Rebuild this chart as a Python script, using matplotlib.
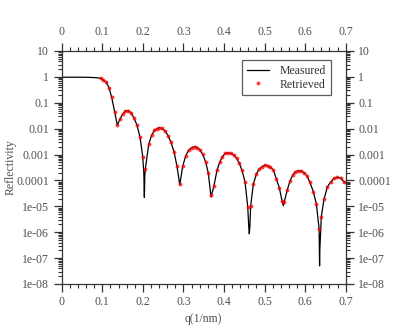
import matplotlib
matplotlib.use("Agg")
import matplotlib.pyplot as plt
from matplotlib.ticker import LogLocator, MultipleLocator, NullFormatter

# retrieved points (q in 1/nm, reflectivity)
ret_q = [0.0961, 0.1025, 0.1099, 0.1166, 0.1232, 0.1306, 0.1370, 0.1437, 0.1504, 0.1568,
         0.1634, 0.1701, 0.1782, 0.1856, 0.1930, 0.1997, 0.2061, 0.2144, 0.2218, 0.2283,
         0.2349, 0.2406, 0.2472, 0.2546, 0.2620, 0.2694, 0.2768, 0.2842, 0.2909, 0.2982,
         0.3056, 0.3130, 0.3204, 0.3278, 0.3342, 0.3409, 0.3475, 0.3549, 0.3614, 0.3680,
         0.3754, 0.3828, 0.3895, 0.3959, 0.4033, 0.4099, 0.4173, 0.4240, 0.4314, 0.4378,
         0.4444, 0.4518, 0.4585, 0.4659, 0.4723, 0.4797, 0.4863, 0.4937, 0.5004, 0.5078,
         0.5142, 0.5216, 0.5290, 0.5364, 0.5430, 0.5487, 0.5561, 0.5627, 0.5694, 0.5758,
         0.5832, 0.5898, 0.5972, 0.6039, 0.6113, 0.6202, 0.6276, 0.6345, 0.6399, 0.6465,
         0.6547, 0.6630, 0.6712, 0.6793, 0.6877, 0.6966]
ret_r = [0.88, 0.76, 0.62, 0.38, 0.16, 0.044, 0.0135, 0.0237, 0.037, 0.048,
         0.050, 0.042, 0.026, 0.0135, 0.0047, 8.3e-4, 2.7e-4, 2.5e-3, 5.6e-3, 8.5e-3,
         0.0101, 0.011, 0.0102, 8.3e-3, 5.4e-3, 2.95e-3, 1.29e-3, 3.5e-4, 7.2e-5, 3.5e-4,
         8.9e-4, 1.48e-3, 1.86e-3, 2.04e-3, 1.86e-3, 1.5e-3, 1.02e-3, 5.1e-4, 1.9e-4, 2.8e-5,
         6.3e-5, 2.5e-4, 5.1e-4, 8.3e-4, 1.1e-3, 1.17e-3, 1.1e-3, 9.5e-4, 7.1e-4, 4.6e-4,
         2.45e-4, 8.9e-5, 9.8e-6, 1.07e-5, 7.2e-5, 1.74e-4, 2.7e-4, 3.4e-4, 3.9e-4, 3.7e-4,
         3.2e-4, 2.6e-4, 1.17e-4, 5.2e-5, 1.66e-5, 1.51e-5, 4.4e-5, 9.5e-5, 1.62e-4, 2.14e-4,
         2.4e-4, 2.34e-4, 2.0e-4, 1.55e-4, 8.9e-5, 3.7e-5, 1.26e-5, 1.35e-6, 4.0e-6, 1.86e-5,
         5.6e-5, 8.7e-5, 1.2e-4, 1.32e-4, 1.26e-4, 8.5e-5]

# measured curve
meas_q = [0.0, 0.02, 0.04, 0.06, 0.075, 0.085, 0.0961, 0.1025, 0.1099, 0.1166,
          0.1232, 0.1306, 0.1370, 0.1437, 0.1504, 0.1568, 0.1634, 0.1701, 0.1782, 0.1856,
          0.1930, 0.1997, 0.2025, 0.2037, 0.2048, 0.2061, 0.2144, 0.2218, 0.2283, 0.2349,
          0.2406, 0.2472, 0.2546, 0.2620, 0.2694, 0.2768, 0.2842, 0.2909, 0.2982, 0.3056,
          0.3130, 0.3204, 0.3278, 0.3342, 0.3409, 0.3475, 0.3549, 0.3614, 0.3680, 0.3754,
          0.3828, 0.3895, 0.3959, 0.4033, 0.4099, 0.4173, 0.4240, 0.4314, 0.4378, 0.4444,
          0.4518, 0.4585, 0.4612, 0.4624, 0.4636, 0.4659, 0.4723, 0.4797, 0.4863, 0.4937,
          0.5004, 0.5078, 0.5142, 0.5216, 0.5290, 0.5364, 0.5430, 0.5463, 0.5487, 0.5561,
          0.5627, 0.5694, 0.5758, 0.5832, 0.5898, 0.5972, 0.6039, 0.6113, 0.6202, 0.6276,
          0.6345, 0.6356, 0.6362, 0.6399, 0.6465, 0.6547, 0.6630, 0.6712, 0.6793, 0.6877,
          0.6966, 0.7]
meas_r = [0.97, 0.97, 0.97, 0.965, 0.95, 0.93, 0.88, 0.76, 0.62, 0.38,
          0.16, 0.044, 0.0135, 0.0237, 0.037, 0.048, 0.050, 0.042, 0.026, 0.0135,
          0.0047, 8.3e-4, 1.8e-4, 2.2e-5, 1.5e-4, 2.7e-4, 2.5e-3, 5.6e-3, 8.5e-3, 0.0101,
          0.011, 0.0102, 8.3e-3, 5.4e-3, 2.95e-3, 1.29e-3, 3.5e-4, 6.8e-5, 3.5e-4, 8.9e-4,
          1.48e-3, 1.86e-3, 2.04e-3, 1.86e-3, 1.5e-3, 1.02e-3, 5.1e-4, 1.9e-4, 2.3e-5, 6.3e-5,
          2.5e-4, 5.1e-4, 8.3e-4, 1.1e-3, 1.17e-3, 1.1e-3, 9.5e-4, 7.1e-4, 4.6e-4, 2.45e-4,
          8.9e-5, 9.8e-6, 1.5e-6, 8.7e-7, 1.5e-6, 1.07e-5, 7.2e-5, 1.74e-4, 2.7e-4, 3.4e-4,
          3.9e-4, 3.7e-4, 3.2e-4, 2.6e-4, 1.17e-4, 5.2e-5, 1.66e-5, 1.05e-5, 1.51e-5, 4.4e-5,
          9.5e-5, 1.62e-4, 2.14e-4, 2.4e-4, 2.34e-4, 2.0e-4, 1.55e-4, 8.9e-5, 3.7e-5, 1.26e-5,
          1.35e-6, 5e-8, 2e-7, 4.0e-6, 1.86e-5, 5.6e-5, 8.7e-5, 1.2e-4, 1.32e-4, 1.26e-4,
          8.5e-5, 8.0e-5]

x_ticks = [0, 0.1, 0.2, 0.3, 0.4, 0.5, 0.6, 0.7]
x_labels = ["0", "0.1", "0.2", "0.3", "0.4", "0.5", "0.6", "0.7"]
y_ticks = [10, 1, 0.1, 0.01, 0.001, 1e-4, 1e-5, 1e-6, 1e-7, 1e-8]
y_labels = ["10", "1", "0.1", "0.01", "0.001", "0.0001", "1e-05", "1e-06", "1e-07", "1e-08"]

plt.rcParams["font.family"] = ["Liberation Serif", "DejaVu Serif"]
plt.rcParams["font.size"] = 8.5
txt = "#505050"

fig = plt.figure(figsize=(4.15, 3.32), dpi=100)
ax = fig.add_axes([0.1487, 0.1446, 0.6843, 0.7018])

ax.plot(meas_q, meas_r, color="black", lw=0.9, label="Measured", zorder=2)
ax.plot(ret_q, ret_r, "o", ms=2.8, color="red", mec="none", alpha=0.75,
        label="Retrieved", zorder=3)

ax.set_yscale("log")
ax.set_xlim(0, 0.7)
ax.set_ylim(1e-8, 10)
ax.set_xticks(x_ticks, x_labels)
ax.set_yticks(y_ticks, y_labels)
ax.xaxis.set_minor_locator(MultipleLocator(0.02))
ax.yaxis.set_minor_locator(LogLocator(base=10, subs=range(2, 10), numticks=20))
ax.yaxis.set_minor_formatter(NullFormatter())

ax.tick_params(which="both", direction="out", top=True, right=True,
               labeltop=True, labelright=True, colors="#333333", labelcolor=txt)
ax.tick_params(which="major", length=6, width=0.9, pad=3)
ax.tick_params(which="minor", length=3.2, width=0.8)
for s in ax.spines.values():
    s.set_color("#333333")
    s.set_linewidth(0.9)

ax.set_xlabel("q(1/nm)", color=txt, labelpad=3)
ax.set_ylabel("Reflectivity", color=txt)
ax.yaxis.set_label_coords(-0.158, 0.5)

leg = ax.legend(loc="upper right", bbox_to_anchor=(0.948, 0.961), borderaxespad=0,
                frameon=True, fancybox=False, edgecolor="#333333", handlelength=1.9,
                handletextpad=0.9, borderpad=0.4, labelspacing=0.15, fontsize=8.5)
leg.get_frame().set_linewidth(0.9)
for t in leg.get_texts():
    t.set_color("#333333")

fig.savefig("out.png", dpi=100)
